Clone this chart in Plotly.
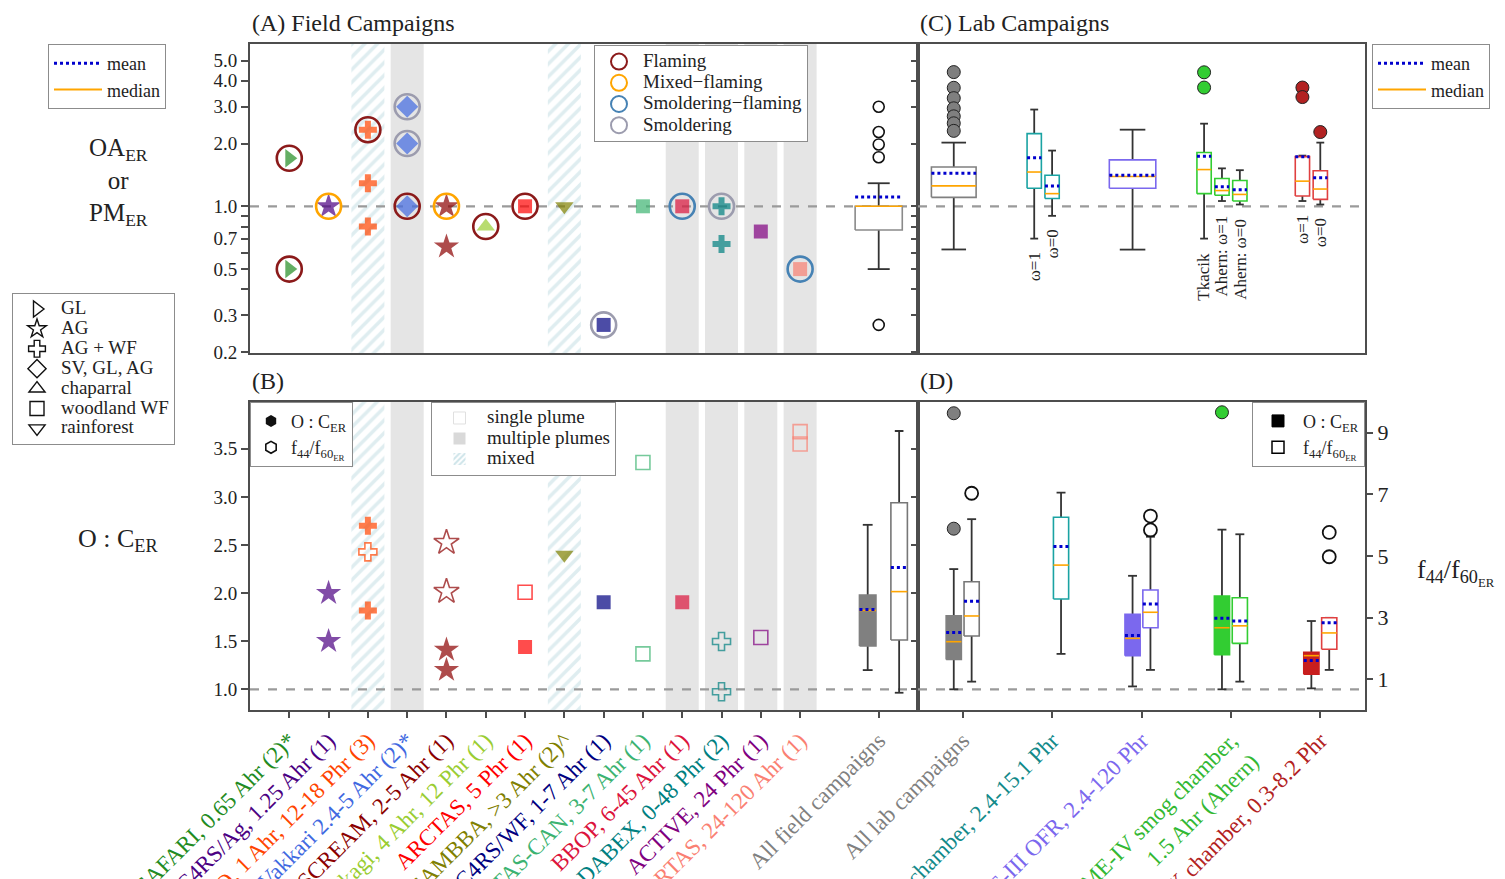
import math
import plotly.graph_objects as go

W, H = 1505, 879
FONT = "Liberation Serif, DejaVu Serif, serif"

# ---------------- Field campaigns (panels A and B) ----------------
field_names = ["SAFARI, 0.65 Ahr (2)*", "SEAC4RS/Ag, 1.25 Ahr (1)", "MILAGRO, 1 Ahr, 12-18 Phr (3)",
               "Vakkari 2.4-5 Ahr (2)*", "SCREAM, 2-5 Ahr (1)", "Akagi, 4 Ahr, 12 Phr (1)",
               "ARCTAS, 5 Phr (1)", "SAMBBA, >3 Ahr (2)^", "SEAC4RS/WF, 1-7 Ahr (1)",
               "ARCTAS-CAN, 3-7 Ahr (1)", "BBOP, 6-45 Ahr (1)", "DABEX, 0-48 Phr (2)",
               "ACTIVE, 24 Phr (1)", "BORTAS, 24-120 Ahr (1)"]
field_colors = ["#228B22", "#4B0082", "#FF4500", "#4169E1", "#8B0000", "#9ACD32", "#FF0000",
                "#808000", "#000080", "#3CB371", "#DC143C", "#008080", "#800080", "#FA8072"]
field_veg = ["GL", "AG", "AG + WF", "SV, GL, AG", "AG", "chaparral", "woodland WF",
             "rainforest", "woodland WF", "woodland WF", "woodland WF", "AG + WF",
             "woodland WF", "woodland WF"]
field_plume = ["single", "single", "mixed", "multiple", "single", "single", "single",
               "mixed", "single", "single", "multiple", "multiple", "multiple", "multiple"]
all_field_label = "All field campaigns"

veg_types = ["GL", "AG", "AG + WF", "SV, GL, AG", "chaparral", "woodland WF", "rainforest"]
veg_symbol = {"GL": "triangle-right", "AG": "star", "AG + WF": "cross", "SV, GL, AG": "diamond",
              "chaparral": "triangle-up", "woodland WF": "square", "rainforest": "triangle-down"}
veg_size = {"GL": 16, "AG": 19, "AG + WF": 15, "SV, GL, AG": 17, "chaparral": 16,
            "woodland WF": 14, "rainforest": 16}

phase_names = ["Flaming", "Mixed\u2212flaming", "Smoldering\u2212flaming", "Smoldering"]
phase_colors = ["#8B1A1A", "#FFA500", "#4682B4", "#9C9CAE"]

# Panel A: OA_ER / PM_ER points (campaign index, value, combustion phase index or -1)
A_idx = [0, 0, 1, 2, 2, 2, 3, 3, 3, 4, 4, 5, 6, 7, 8, 9, 10, 11, 11, 12, 13]
A_val = [1.70, 0.50, 1.0, 2.33, 1.29, 0.80, 3.0, 2.0, 1.0, 1.0, 0.64, 0.80, 1.0, 1.0, 0.27,
         1.0, 1.0, 1.0, 0.66, 0.757, 0.50]
A_phase = [0, 0, 1, 0, -1, -1, 3, 3, 0, 1, -1, 0, 0, -1, 3, -1, 2, 3, -1, -1, 2]

# Panel B: O:C_ER (filled) and f44/f60_ER (open)
B_oc_idx = [1, 1, 2, 2, 4, 4, 6, 7, 8, 10]
B_oc_val = [2.0, 1.5, 2.70, 1.82, 1.41, 1.20, 1.44, 2.40, 1.905, 1.905]
B_f_idx = [2, 4, 4, 6, 9, 9, 11, 11, 12, 13, 13]
B_f_val = [5.13, 5.43, 3.84, 3.82, 8.03, 1.82, 2.22, 0.59, 2.35, 9.03, 8.63]

# All field campaigns box statistics: q1, median, q3, low whisker, high whisker, mean
AF_oa = [0.77, 1.0, 1.0, 0.50, 1.29, 1.107]
AF_oa_out = [3.0, 2.27, 1.98, 1.72, 0.27]
AF_oc = [1.45, 1.82, 1.98, 1.20, 2.71, 1.83]
AF_f = [2.27, 3.84, 6.72, 0.56, 9.05, 4.62]

# ---------------- Lab campaigns (panels C and D) ----------------
lab_names = ["All lab campaigns", "FLAME-III chamber, 2.4-15.1 Phr", "FLAME-III OFR, 2.4-120 Phr",
             "FLAME-IV smog chamber,<br>1.5 Ahr (Ahern)", "FIREX chamber, 0.3-8.2 Phr"]
lab_colors = ["#808080", "#138A8A", "#7B68EE", "#33B833", "#B22222"]
lab_edge = ["#808080", "#1AA3A3", "#7B68EE", "#32CD32", "#E04040"]
lab_fill = ["#808080", "#1AA3A3", "#7B68EE", "#32CD32", "#C81E1E"]
lab_out = ["#7F7F7F", "#1AA3A3", "#7B68EE", "#32CD32", "#B22222"]

# Panel C boxes
C_group = [0, 1, 1, 2, 3, 3, 3, 4, 4]
C_offset = [-0.1, -0.2, 0.0, -0.1, -0.3, -0.1, 0.1, -0.2, 0.0]
C_width = [0.5, 0.16, 0.16, 0.52, 0.16, 0.16, 0.16, 0.16, 0.16]
C_label = ["", "\u03c9=1", "\u03c9=0", "", "Tkacik", "Ahern: \u03c9=1", "Ahern: \u03c9=0", "\u03c9=1", "\u03c9=0"]
# q1, median, q3, low whisker, high whisker, mean
C_stats = [[1.104, 1.253, 1.544, 0.621, 2.02, 1.441],
           [1.22, 1.46, 2.23, 0.70, 2.91, 1.71],
           [1.09, 1.15, 1.41, 0.90, 1.85, 1.25],
           [1.22, 1.39, 1.67, 0.62, 2.33, 1.41],
           [1.15, 1.50, 1.81, 0.70, 2.49, 1.74],
           [1.13, 1.19, 1.36, 1.06, 1.52, 1.24],
           [1.06, 1.14, 1.33, 1.02, 1.49, 1.20],
           [1.12, 1.32, 1.73, 1.06, 1.75, 1.73],
           [1.08, 1.21, 1.48, 1.02, 2.02, 1.37]]
C_outliers = [[4.4, 3.7, 3.3, 2.95, 2.7, 2.5, 2.3], [], [], [], [4.39, 3.71], [], [], [3.71, 3.34], [2.27]]

# Panel D boxes: O:C_ER (filled, left axis) and f44/f60_ER (open, right axis)
D_oc_group = [0, 2, 3, 4]
D_oc_stats = [[1.31, 1.495, 1.765, 1.0, 2.25, 1.59],
              [1.35, 1.53, 1.78, 1.03, 2.18, 1.56],
              [1.36, 1.64, 1.97, 1.0, 2.66, 1.74],
              [1.156, 1.35, 1.385, 1.01, 1.71, 1.30]]
D_oc_out = [[3.87, 2.67], [], [3.88], []]
D_f_group = [0, 1, 2, 3, 4]
D_f_stats = [[2.40, 3.05, 4.16, 0.92, 6.19, 3.53],
             [3.60, 4.70, 6.25, 1.82, 7.05, 5.30],
             [2.67, 3.17, 3.89, 1.30, 5.62, 3.44],
             [2.16, 2.73, 3.64, 0.92, 5.70, 2.89],
             [1.97, 2.50, 2.99, 1.30, 2.99, 2.83]]
D_f_out = [[7.03], [], [6.29, 5.84], [], [5.76, 4.97]]

# axis ranges
A_YR = [0.198, 6.0]
B_YR = [0.785, 3.99]
F_YR = [0.0, 10.0]
FX_R = [-1, 16]
LX_R = [-0.5, 4.5]

MEAN_C = "#0000CD"
MED_C = "#FFA500"
WHISK = "#333333"
AXC = "#4D4D4D"
HATCH = "#BFDCE2"

fig = go.Figure()


def px(v):
    return v / W


def py(v):
    return 1 - v / H


def add_box(xc, w, cw, st, edge, fill, xa, ya):
    q1, med, q3, lo, hi, mean = st
    fig.add_trace(go.Scatter(
        x=[xc, xc, None, xc, xc, None, xc - cw / 2, xc + cw / 2, None, xc - cw / 2, xc + cw / 2],
        y=[lo, q1, None, q3, hi, None, lo, lo, None, hi, hi], mode="lines",
        line=dict(color=WHISK, width=1.8), xaxis=xa, yaxis=ya, showlegend=False, hoverinfo="skip"))
    fig.add_trace(go.Scatter(
        x=[xc - w / 2, xc + w / 2, xc + w / 2, xc - w / 2, xc - w / 2], y=[q1, q1, q3, q3, q1],
        mode="lines", fill="toself", fillcolor=fill, line=dict(color=edge, width=1.6),
        xaxis=xa, yaxis=ya, showlegend=False, hoverinfo="skip"))
    fig.add_trace(go.Scatter(x=[xc - w / 2, xc + w / 2], y=[med, med], mode="lines",
                             line=dict(color=MED_C, width=1.6), xaxis=xa, yaxis=ya,
                             showlegend=False, hoverinfo="skip"))
    fig.add_trace(go.Scatter(x=[xc - w / 2, xc + w / 2], y=[mean, mean], mode="lines",
                             line=dict(color=MEAN_C, width=3, dash="dot"), xaxis=xa, yaxis=ya,
                             showlegend=False, hoverinfo="skip"))


# ---- background bands (A and B) ----
shapes = []
for i, pl in enumerate(field_plume):
    if pl == "multiple":
        for xr, yr in [("x", "y domain"), ("x3", "y3 domain")]:
            shapes.append(dict(type="rect", xref=xr, yref=yr,
                               x0=i - 0.42, x1=i + 0.42, y0=0, y1=1, fillcolor="#E5E5E5",
                               line=dict(width=0), layer="below"))
    elif pl == "mixed":
        for xa, ya, yr in [("x", "y", A_YR), ("x3", "y3", B_YR)]:
            fig.add_trace(go.Scatter(
                x=[i - 0.42, i + 0.42, i + 0.42, i - 0.42, i - 0.42],
                y=[yr[0], yr[0], yr[1], yr[1], yr[0]], mode="lines", fill="toself",
                fillcolor="rgba(255,255,255,0)",
                fillpattern=dict(shape="/", fgcolor=HATCH, bgcolor="rgba(255,255,255,0)",
                                 size=9, solidity=0.4),
                line=dict(width=0), xaxis=xa, yaxis=ya, showlegend=False, hoverinfo="skip"))

# ---- dashed reference lines ----
for xa, ya, xr in [("x", "y", FX_R), ("x2", "y2", LX_R), ("x3", "y3", FX_R), ("x4", "y4", LX_R)]:
    fig.add_trace(go.Scatter(x=xr, y=[1, 1], mode="lines", line=dict(color="#9A9A9A", width=2.2, dash="dash"),
                             xaxis=xa, yaxis=ya, showlegend=False, hoverinfo="skip"))

# ---- Panel A markers ----
fig.add_trace(go.Scatter(
    x=A_idx, y=A_val, mode="markers",
    marker=dict(symbol=[veg_symbol[field_veg[i]] for i in A_idx],
                size=[veg_size[field_veg[i]] for i in A_idx],
                color=[field_colors[i] for i in A_idx], line=dict(width=0)),
    xaxis="x", yaxis="y", showlegend=False, hoverinfo="skip"))
ring_x = [A_idx[k] for k in range(len(A_idx)) if A_phase[k] >= 0]
ring_y = [A_val[k] for k in range(len(A_idx)) if A_phase[k] >= 0]
ring_c = [phase_colors[A_phase[k]] for k in range(len(A_idx)) if A_phase[k] >= 0]
fig.add_trace(go.Scatter(x=ring_x, y=ring_y, mode="markers",
                         marker=dict(symbol="circle-open", size=25, color=ring_c, line=dict(width=2.6)),
                         xaxis="x", yaxis="y", showlegend=False, hoverinfo="skip"))
add_box(15, 1.2, 0.56, AF_oa, "#8A8A8A", "white", "x", "y")
fig.add_trace(go.Scatter(x=[15] * len(AF_oa_out), y=AF_oa_out, mode="markers",
                         marker=dict(symbol="circle-open", size=11, color="#111", line=dict(width=1.6)),
                         xaxis="x", yaxis="y", showlegend=False, hoverinfo="skip"))

# ---- Panel B markers ----
fig.add_trace(go.Scatter(
    x=B_oc_idx, y=B_oc_val, mode="markers",
    marker=dict(symbol=[veg_symbol[field_veg[i]] for i in B_oc_idx],
                size=[veg_size[field_veg[i]] for i in B_oc_idx],
                color=[field_colors[i] for i in B_oc_idx], line=dict(width=0)),
    xaxis="x3", yaxis="y3", showlegend=False, hoverinfo="skip"))
fig.add_trace(go.Scatter(
    x=B_f_idx, y=B_f_val, mode="markers",
    marker=dict(symbol=[veg_symbol[field_veg[i]] + "-open" for i in B_f_idx],
                size=[veg_size[field_veg[i]] for i in B_f_idx],
                color=[field_colors[i] for i in B_f_idx], line=dict(width=1.6)),
    xaxis="x3", yaxis="y5", showlegend=False, hoverinfo="skip"))
add_box(15 - 0.28, 0.42, 0.25, AF_oc, "#808080", "#808080", "x3", "y3")
add_box(15 + 0.52, 0.42, 0.22, AF_f, "#777777", "white", "x3", "y5")

# ---- Panel C ----
for k in range(len(C_group)):
    g = C_group[k]
    xc = g + C_offset[k]
    add_box(xc, C_width[k], C_width[k] * 0.55, C_stats[k], lab_edge[g], "white", "x2", "y2")
    if C_outliers[k]:
        fig.add_trace(go.Scatter(x=[xc] * len(C_outliers[k]), y=C_outliers[k], mode="markers",
                                 marker=dict(symbol="circle", size=13, color=lab_out[g],
                                             line=dict(color="#222", width=1)),
                                 xaxis="x2", yaxis="y2", showlegend=False, hoverinfo="skip"))

# ---- Panel D ----
for k, g in enumerate(D_oc_group):
    add_box(g - 0.1, 0.17, 0.1, D_oc_stats[k], lab_fill[g], lab_fill[g], "x4", "y4")
    if D_oc_out[k]:
        fig.add_trace(go.Scatter(x=[g - 0.1] * len(D_oc_out[k]), y=D_oc_out[k], mode="markers",
                                 marker=dict(symbol="circle", size=13, color=lab_out[g],
                                             line=dict(color="#222", width=1)),
                                 xaxis="x4", yaxis="y4", showlegend=False, hoverinfo="skip"))
for k, g in enumerate(D_f_group):
    add_box(g + 0.1, 0.17, 0.1, D_f_stats[k], lab_edge[g] if g else "#777777", "white", "x4", "y6")
    if D_f_out[k]:
        fig.add_trace(go.Scatter(x=[g + 0.1] * len(D_f_out[k]), y=D_f_out[k], mode="markers",
                                 marker=dict(symbol="circle-open", size=13, color="#111", line=dict(width=1.8)),
                                 xaxis="x4", yaxis="y6", showlegend=False, hoverinfo="skip"))


# ---- legends ----
def big(t, s):
    return '<span style="font-size:%dpx">%s</span>' % (s, t)


for lg in ["legend", "legend7"]:
    fig.add_trace(go.Scatter(x=[None], y=[None], mode="lines", name="mean",
                             line=dict(color=MEAN_C, width=3, dash="dot"), legend=lg, showlegend=True))
    fig.add_trace(go.Scatter(x=[None], y=[None], mode="lines", name="median",
                             line=dict(color=MED_C, width=2), legend=lg, showlegend=True))
for v in veg_types:
    fig.add_trace(go.Scatter(x=[None], y=[None], mode="markers", name=big(v, 19),
                             marker=dict(symbol=veg_symbol[v] + "-open", size=14, color="#111",
                                         line=dict(width=1.4)),
                             legend="legend2", showlegend=True))
for nm, c in zip(phase_names, phase_colors):
    fig.add_trace(go.Scatter(x=[None], y=[None], mode="markers", name=big(nm, 19),
                             marker=dict(symbol="circle-open", size=17, color=c, line=dict(width=2)),
                             legend="legend3", showlegend=True))
fig.add_trace(go.Scatter(x=[None], y=[None], mode="markers", name="O : C<sub>ER</sub>",
                         marker=dict(symbol="hexagon", size=12, color="#111"),
                         xaxis="x3", yaxis="y3", legend="legend4", showlegend=True))
fig.add_trace(go.Scatter(x=[None], y=[None], mode="markers", name="f<sub>44</sub>/f<sub>60<sub>ER</sub></sub>",
                         marker=dict(symbol="hexagon-open", size=12, color="#111", line=dict(width=1.6)),
                         xaxis="x3", yaxis="y3", legend="legend4", showlegend=True))
fig.add_trace(go.Bar(x=[None], y=[None], name=big("single plume", 19),
                     marker=dict(color="white", line=dict(color="#E0E0E0", width=1)),
                     xaxis="x3", yaxis="y3", legend="legend5", showlegend=True))
fig.add_trace(go.Bar(x=[None], y=[None], name=big("multiple plumes", 19),
                     marker=dict(color="#D9D9D9", line=dict(width=0)),
                     xaxis="x3", yaxis="y3", legend="legend5", showlegend=True))
fig.add_trace(go.Bar(x=[None], y=[None], name=big("mixed", 19),
                     marker=dict(color="white", line=dict(width=0),
                                 pattern=dict(shape="/", fgcolor="#9CC9D3", size=5, solidity=0.5)),
                     xaxis="x3", yaxis="y3", legend="legend5", showlegend=True))
fig.add_trace(go.Bar(x=[None], y=[None], name="O : C<sub>ER</sub>",
                     marker=dict(color="#000", line=dict(color="#000", width=1)),
                     xaxis="x4", yaxis="y4", legend="legend6", showlegend=True))
fig.add_trace(go.Bar(x=[None], y=[None], name="f<sub>44</sub>/f<sub>60<sub>ER</sub></sub>",
                     marker=dict(color="white", line=dict(color="#000", width=1.5)),
                     xaxis="x4", yaxis="y4", legend="legend6", showlegend=True))

LEG = dict(bgcolor="white", bordercolor="#8C8C8C", borderwidth=1, font=dict(family=FONT, size=18, color="#222"),
           xanchor="left", yanchor="top", tracegroupgap=0)


def leg(x, y, **kw):
    d = dict(LEG)
    d.update(x=px(x), y=py(y))
    d.update(kw)
    return d


# ---- axes ----
dA = [py(353), py(44)]
dB = [py(710), py(401.7)]
dL = [px(250), px(918)]
dR = [px(918), px(1365)]
axline = dict(showline=True, mirror=True, linecolor=AXC, linewidth=2, showgrid=False, zeroline=False)
tickf = dict(family=FONT, size=19, color="#222")

A_tv = [0.2, 0.3, 0.4, 0.5, 0.6, 0.7, 0.8, 0.9, 1, 2, 3, 4, 5]
A_tt = ["0.2", "0.3", "", "0.5", "", "0.7", "", "", "1.0", "2.0", "3.0", "4.0", "5.0"]
B_tv = [1.0, 1.5, 2.0, 2.5, 3.0, 3.5]
F_tv = [1, 3, 5, 7, 9]

field_ticktext = ['<span style="color:%s">%s</span>' % (c, n) for n, c in zip(field_names, field_colors)]
field_ticktext.append('<span style="color:#808080">%s</span>' % all_field_label)
lab_ticktext = ['<span style="color:%s">%s</span>' % (c, n) for n, c in zip(lab_names, lab_colors)]

fig.update_layout(
    width=W, height=H, margin=dict(l=0, r=0, t=0, b=0, autoexpand=False),
    paper_bgcolor="white", plot_bgcolor="white",
    font=dict(family=FONT, color="#222"), barmode="overlay",
    xaxis=dict(domain=dL, range=FX_R, anchor="y", showticklabels=False, ticks="", **axline),
    yaxis=dict(domain=dA, type="log", range=[math.log10(A_YR[0]), math.log10(A_YR[1])], anchor="x",
               tickvals=A_tv, ticktext=A_tt, ticks="outside", ticklen=7, tickwidth=1.5, tickcolor=AXC,
               tickfont=tickf, **axline),
    xaxis2=dict(domain=dR, range=LX_R, anchor="y2", showticklabels=False, ticks="", **axline),
    yaxis2=dict(domain=dA, type="log", range=[math.log10(A_YR[0]), math.log10(A_YR[1])], anchor="x2",
                tickvals=A_tv, showticklabels=False, ticks="outside", ticklen=5, tickwidth=1.5,
                tickcolor=AXC, **axline),
    xaxis3=dict(domain=dL, range=FX_R, anchor="y3", tickvals=list(range(14)) + [15],
                ticktext=field_ticktext, tickangle=-45, ticks="outside", ticklen=6, tickwidth=1.5,
                tickcolor=AXC, tickfont=dict(family=FONT, size=23), **axline),
    yaxis3=dict(domain=dB, range=B_YR, anchor="x3", tickvals=B_tv, ticktext=["%.1f" % v for v in B_tv],
                ticks="outside", ticklen=7, tickwidth=1.5, tickcolor=AXC, tickfont=tickf, **axline),
    yaxis5=dict(overlaying="y3", range=F_YR, anchor="x3", visible=False),
    xaxis4=dict(domain=dR, range=LX_R, anchor="y4", tickvals=list(range(5)), ticktext=lab_ticktext,
                tickangle=-45, ticks="outside", ticklen=6, tickwidth=1.5, tickcolor=AXC,
                tickfont=dict(family=FONT, size=23), **axline),
    yaxis4=dict(domain=dB, range=B_YR, anchor="x4", tickvals=B_tv, showticklabels=False,
                ticks="outside", ticklen=5, tickwidth=1.5, tickcolor=AXC, **axline),
    yaxis6=dict(overlaying="y4", side="right", range=F_YR, anchor="x4", tickvals=F_tv,
                ticks="outside", ticklen=7, tickwidth=1.5, tickcolor=AXC, showgrid=False, zeroline=False,
                tickfont=dict(family=FONT, size=22, color="#222")),
    shapes=shapes,
    legend=leg(48, 44, itemwidth=48),
    legend7=leg(1372, 44, itemwidth=48),
    legend2=leg(12, 293, font=dict(family=FONT, size=13, color="#222"), itemwidth=38),
    legend3=leg(594, 45, font=dict(family=FONT, size=14, color="#222"), itemwidth=38),
    legend4=leg(250, 401.7),
    legend5=leg(431, 401.7, font=dict(family=FONT, size=13.5, color="#222"), itemwidth=45),
    legend6=leg(1365, 401.7, xanchor="right", itemwidth=40),
    showlegend=True,
)

# ---- text annotations ----
ann = []
ann.append(dict(text="(A) Field Campaigns", x=px(250), y=py(23), xref="paper", yref="paper",
                xanchor="left", yanchor="middle", showarrow=False, font=dict(family=FONT, size=24)))
ann.append(dict(text="(C) Lab Campaigns", x=px(918), y=py(23), xref="paper", yref="paper",
                xanchor="left", yanchor="middle", showarrow=False, font=dict(family=FONT, size=24)))
ann.append(dict(text="(B)", x=px(250), y=py(381), xref="paper", yref="paper",
                xanchor="left", yanchor="middle", showarrow=False, font=dict(family=FONT, size=24)))
ann.append(dict(text="(D)", x=px(918), y=py(381), xref="paper", yref="paper",
                xanchor="left", yanchor="middle", showarrow=False, font=dict(family=FONT, size=24)))
ann.append(dict(text="OA<sub>ER</sub><br>or<br>PM<sub>ER</sub>", x=px(118), y=py(182), xref="paper",
                yref="paper", xanchor="center", yanchor="middle", showarrow=False, align="center",
                font=dict(family=FONT, size=25)))
ann.append(dict(text="O : C<sub>ER</sub>", x=px(118), y=py(540), xref="paper", yref="paper",
                xanchor="center", yanchor="middle", showarrow=False, font=dict(family=FONT, size=26)))
ann.append(dict(text="f<sub>44</sub>/f<sub>60<sub>ER</sub></sub>", x=px(1456), y=py(572), xref="paper",
                yref="paper", xanchor="center", yanchor="middle", showarrow=False,
                font=dict(family=FONT, size=26)))
for k in range(len(C_group)):
    if C_label[k]:
        ann.append(dict(text=C_label[k], x=C_group[k] + C_offset[k], y=math.log10(C_stats[k][3]),
                        xref="x2", yref="y2", xanchor="center", yanchor="top", yshift=-12,
                        textangle=-90, showarrow=False, font=dict(family=FONT, size=17, color="#222")))
fig.update_layout(annotations=ann)

fig.write_html("out.html")
